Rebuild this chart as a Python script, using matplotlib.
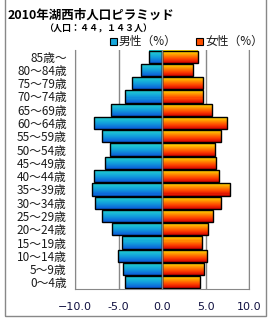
import numpy as np
import matplotlib.pyplot as plt
from matplotlib.patches import Rectangle
from matplotlib.colors import LinearSegmentedColormap

plt.rcParams['font.family'] = ['Noto Sans CJK JP', 'DejaVu Sans']

# age groups, bottom to top
ages = ['0～4歳', '5～9歳', '10～14歳', '15～19歳', '20～24歳', '25～29歳',
        '30～34歳', '35～39歳', '40～44歳', '45～49歳', '50～54歳', '55～59歳',
        '60～64歳', '65～69歳', '70～74歳', '75～79歳', '80～84歳', '85歳～']
male = [4.25, 4.5, 5.05, 4.6, 5.75, 6.9, 7.65, 8.1, 7.8, 6.55, 6.0, 6.9,
        7.8, 5.9, 4.2, 3.4, 2.4, 1.5]
female = [4.4, 4.8, 5.2, 4.6, 5.3, 5.9, 6.8, 7.8, 6.55, 6.2, 6.1, 6.8,
          7.5, 5.7, 4.7, 4.7, 3.6, 4.1]
xticks = [-10, -5, 0, 5, 10]

male_cmap = LinearSegmentedColormap.from_list('m', ['#0a58d8', '#12a0dc', '#22d4d0'])
female_cmap = LinearSegmentedColormap.from_list('f', ['#d00000', '#ff4000', '#ff9000', '#ffe400'])

fig = plt.figure(figsize=(2.7, 3.2), dpi=100)
ax = fig.add_axes([75 / 270, 1 - 289 / 320, 174 / 270, 239 / 320])

y = np.arange(len(ages))
h = 0.92
nstrip = 12
for vals, sign, cmap in [(male, -1, male_cmap), (female, 1, female_cmap)]:
    w = np.array(vals) * sign
    # vertical gradient: stack thin strips, bottom dark -> top light
    for k in range(nstrip):
        sh = h / nstrip
        ax.barh(y - h / 2 + sh * k, w, height=sh * 1.05, align='edge',
                color=cmap((k + 0.5) / nstrip), linewidth=0, zorder=2)
    ax.barh(y, w, height=h, color='none', edgecolor='black', linewidth=1.0, zorder=3)

ax.set_xlim(-10, 10)
ax.set_ylim(-0.5, len(ages) - 0.5)
for v in xticks:
    ax.axvline(v, color='#888888', linewidth=1.0, zorder=1)
ax.axvline(0, color='#888888', linewidth=1.0, zorder=4)

ax.set_yticks(y)
ax.set_yticklabels(ages, fontsize=8.5, color='#1a1a1a')
ax.set_xticks(xticks)
ax.set_xticklabels(['−10.0', '-5.0', '0.0', '5.0', '10.0'], fontsize=8,
                   color='#101040', family='DejaVu Sans')
ax.tick_params(length=0, pad=6)
ax.tick_params(axis='x', pad=9)
ax.spines['top'].set_visible(False)
for s in ['left', 'right', 'bottom']:
    ax.spines[s].set_color('#888888')

# legend squares + labels
fig.patches.append(Rectangle((110 / 270, 1 - 45 / 320), 7 / 270, 7 / 320,
                             transform=fig.transFigure, facecolor='#18a8dc',
                             edgecolor='black', linewidth=0.8))
fig.text(119 / 270, 1 - 41 / 320, '男性（%）', fontsize=8.5, va='center', color='#1a1a1a')
fig.patches.append(Rectangle((196 / 270, 1 - 45 / 320), 7 / 270, 7 / 320,
                             transform=fig.transFigure, facecolor='#ff5000',
                             edgecolor='black', linewidth=0.8))
fig.text(205 / 270, 1 - 41 / 320, '女性（%）', fontsize=8.5, va='center', color='#1a1a1a')

fig.text(8 / 270, 1 - 15 / 320, '2010年湖西市人口ピラミッド', fontsize=9,
         fontweight='bold', va='center')
fig.text(44 / 270, 1 - 29 / 320, '（人口：４４，１４３人）', fontsize=6.5,
         fontweight='bold', va='center')

# outer frame
fig.patches.append(Rectangle((5 / 270, 4 / 320), 261 / 270, 318 / 320,
                             transform=fig.transFigure, fill=False,
                             edgecolor='#888888', linewidth=1.0))

fig.savefig('out.png', dpi=100)
